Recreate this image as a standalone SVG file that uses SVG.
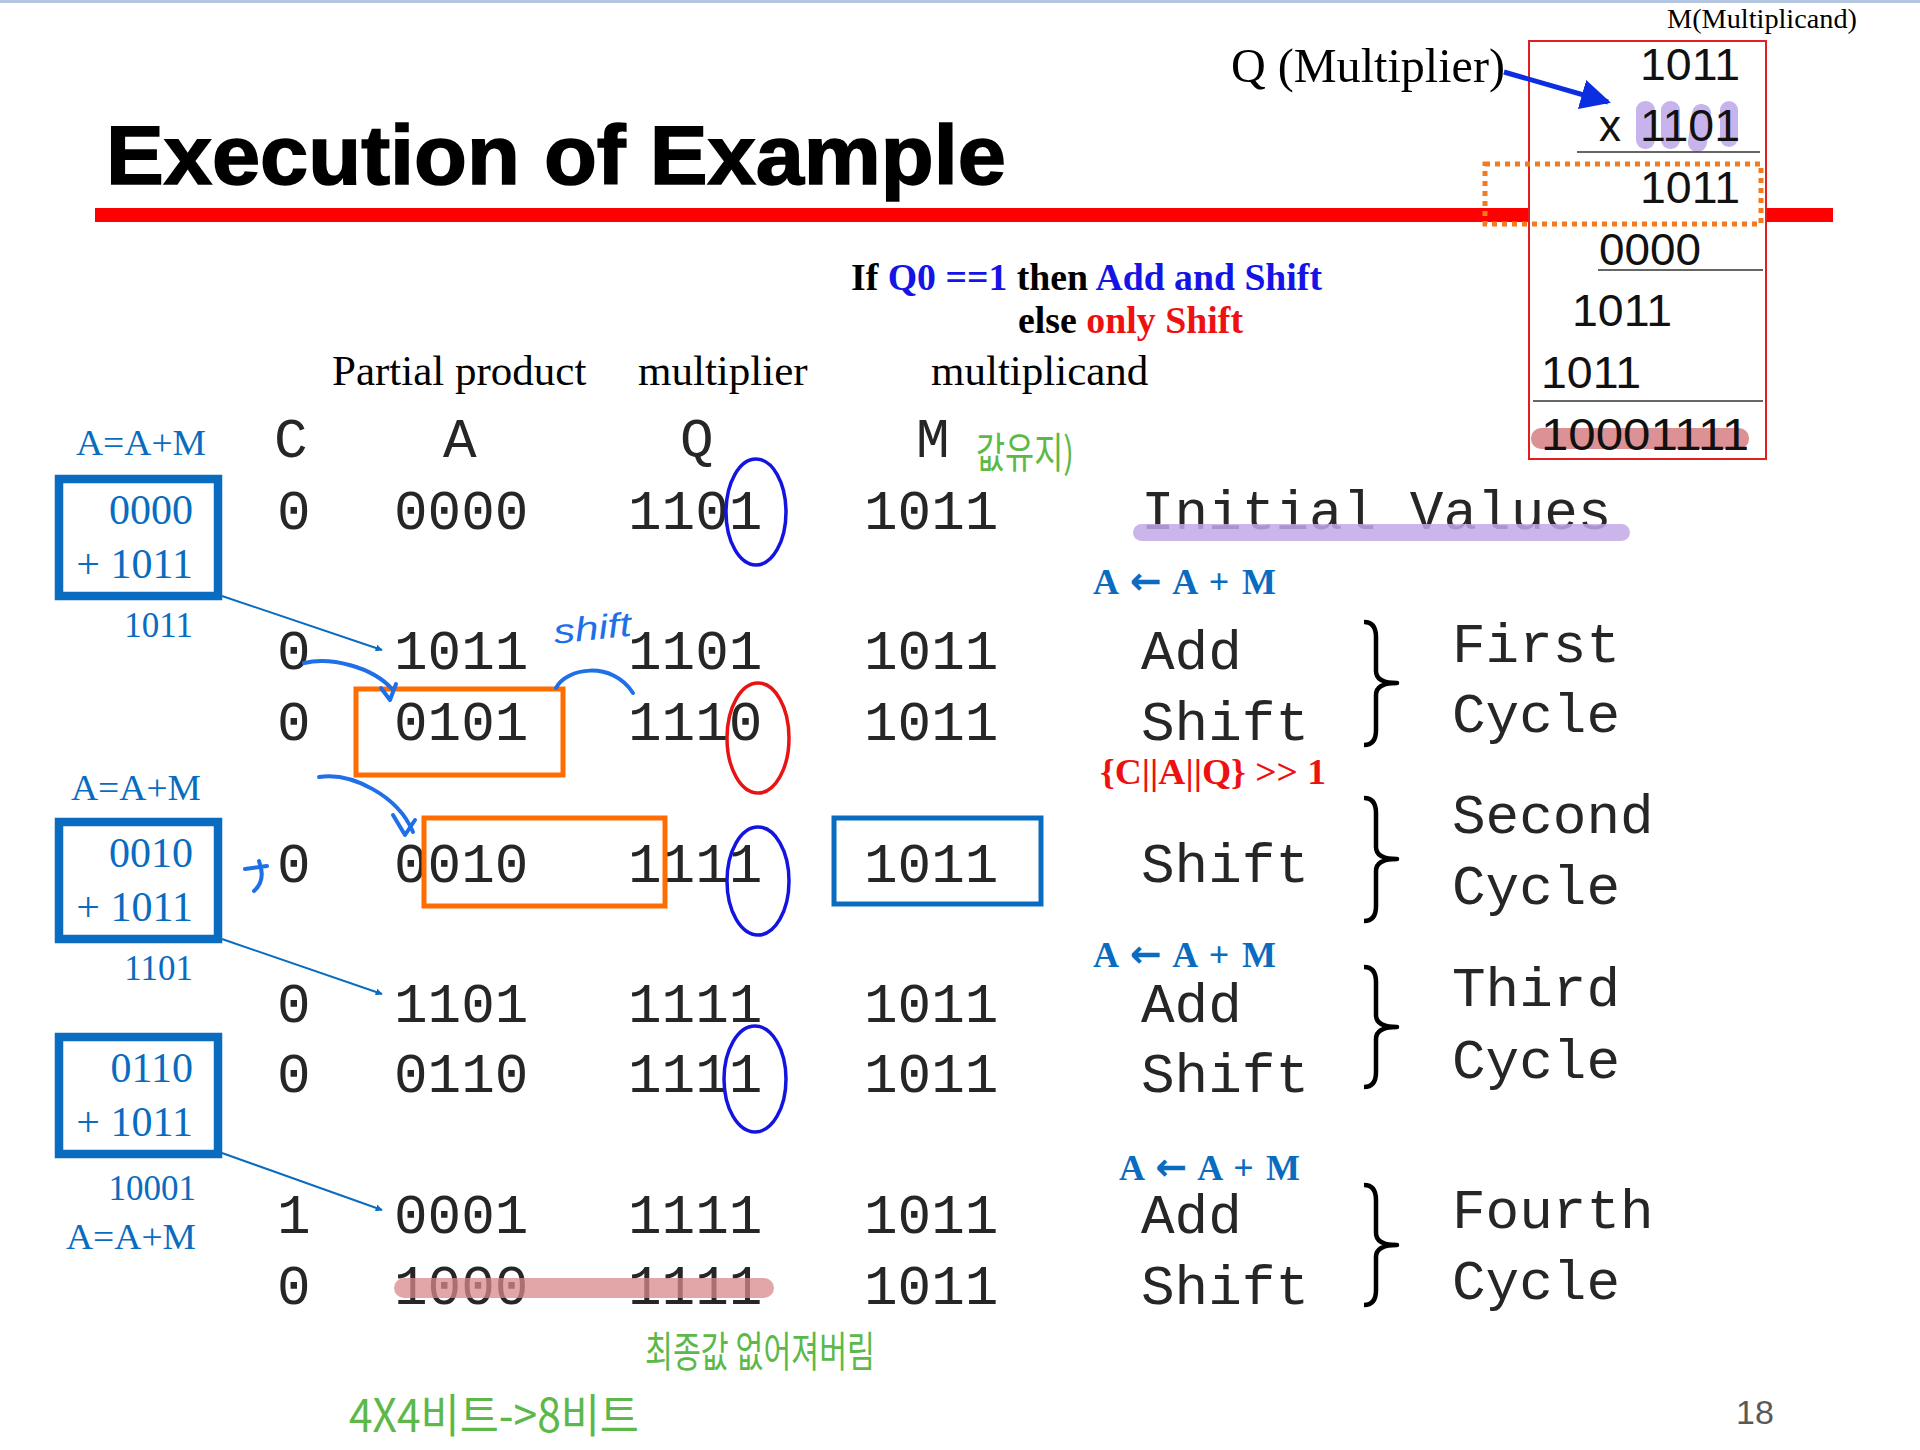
<svg xmlns="http://www.w3.org/2000/svg" width="1920" height="1450" viewBox="0 0 1920 1450">
<defs>
<style>
.mono{font-family:"Liberation Mono","Courier New",monospace;font-size:56px;fill:#262626}
.ser{font-family:"Liberation Serif","Times New Roman",serif}
.sans{font-family:"Liberation Sans",Arial,sans-serif}
.lbl{font-family:"Liberation Serif","Times New Roman",serif;fill:#0a6cc0}
.blk{fill:#000}
.bl{fill:#1414e6}
.rd{fill:#ee1111}
.arw{font-family:"DejaVu Sans",sans-serif;font-size:38px;font-weight:bold}
.hb{fill:none;stroke:#1f6fe8;stroke-width:4;stroke-linecap:round;stroke-linejoin:round}
.grn{font-family:"Noto Sans CJK KR","Noto Sans",sans-serif;fill:#5cb848}
.brace{fill:none;stroke:#000;stroke-width:4.5;stroke-linejoin:round}
.lbox{fill:none;stroke:#0a6cc0;stroke-width:8.5}
.obox{fill:none;stroke:#ff6d00;stroke-width:5}
.ell{fill:none;stroke-width:3.5}
.rule{stroke:#333;stroke-width:1.5}
.bx{font-family:"Liberation Sans",Arial,sans-serif;font-size:44px;fill:#111}
</style>
<marker id="ah" viewBox="0 0 10 10" refX="9" refY="5" markerWidth="7" markerHeight="7" orient="auto" markerUnits="userSpaceOnUse">
<path d="M0,0 L10,5 L0,10 z" fill="#0a6cc0"/>
</marker>
<marker id="ahb" viewBox="0 0 10 10" refX="9" refY="5" markerWidth="6" markerHeight="6" orient="auto">
<path d="M0,0 L10,5 L0,10 z" fill="#0a2ee0"/>
</marker>
</defs>
<rect x="0" y="0" width="1920" height="1450" fill="#fff"/>
<rect x="0" y="0" width="1920" height="3" fill="#b4c6e0"/>

<g id="title">
<text x="106" y="184" class="sans" font-weight="bold" font-size="84" textLength="900" lengthAdjust="spacingAndGlyphs" fill="#000" stroke="#000" stroke-width="1.6">Execution of Example</text>
<rect x="95" y="208" width="1738" height="14" fill="#ff0000"/>
</g>

<g id="manual-multiplication">
<text x="1667" y="28" class="ser" font-size="28" textLength="190" lengthAdjust="spacingAndGlyphs" fill="#000">M(Multiplicand)</text>
<text x="1231" y="82" class="ser" font-size="48" textLength="274" lengthAdjust="spacingAndGlyphs" fill="#000">Q (Multiplier)</text>
<rect x="1529" y="41" width="237" height="418" fill="#fff" stroke="#e02020" stroke-width="2"/>
<rect x="1485" y="164" width="276" height="60" fill="none" stroke="#f47a20" stroke-width="5" stroke-dasharray="5 5"/>
<rect x="1636" y="101" width="19" height="48" rx="9" fill="#c8b4ec"/>
<rect x="1661" y="101" width="19" height="48" rx="9" fill="#c8b4ec"/>
<rect x="1690" y="104" width="19" height="48" rx="9" fill="#c8b4ec" transform="rotate(8 1700 128)"/>
<rect x="1720" y="101" width="18" height="46" rx="9" fill="#c8b4ec"/>
<rect x="1531" y="428" width="218" height="21" rx="10" fill="#dc9294"/>
<text x="1640" y="80" class="bx" textLength="100" lengthAdjust="spacingAndGlyphs">1011</text>
<text x="1599" y="141" class="bx">x</text>
<text x="1640" y="141" class="bx" textLength="100" lengthAdjust="spacingAndGlyphs">1101</text>
<line x1="1577" y1="152" x2="1760" y2="152" class="rule"/>
<text x="1640" y="203" class="bx" textLength="100" lengthAdjust="spacingAndGlyphs">1011</text>
<text x="1599" y="265" class="bx" textLength="102" lengthAdjust="spacingAndGlyphs">0000</text>
<line x1="1598" y1="270" x2="1763" y2="270" class="rule"/>
<text x="1572" y="326" class="bx" textLength="100" lengthAdjust="spacingAndGlyphs">1011</text>
<text x="1541" y="388" class="bx" textLength="100" lengthAdjust="spacingAndGlyphs">1011</text>
<line x1="1533" y1="401" x2="1763" y2="401" class="rule"/>
<text x="1541" y="450" class="bx" textLength="208" lengthAdjust="spacingAndGlyphs">10001111</text>
</g>

<g id="rule-text" font-weight="bold" font-size="37">
<text x="851" y="290" class="ser" textLength="471" lengthAdjust="spacingAndGlyphs"><tspan class="blk">If </tspan><tspan class="bl">Q0 ==1</tspan><tspan class="blk"> then </tspan><tspan class="bl">Add and Shift</tspan></text>
<text x="1018" y="333" class="ser" textLength="225" lengthAdjust="spacingAndGlyphs"><tspan class="blk">else </tspan><tspan class="rd">only Shift</tspan></text>
</g>

<g id="column-titles" class="ser" font-size="43" fill="#000">
<text x="332" y="385">Partial product</text>
<text x="638" y="385">multiplier</text>
<text x="931" y="385">multiplicand</text>
</g>

<g id="table" class="mono">
<text x="274" y="457">C</text><text x="443" y="457">A</text><text x="680" y="457">Q</text><text x="916" y="457">M</text>
<text x="277" y="529">0</text><text x="394" y="529">0000</text><text x="628" y="529">1101</text><text x="864" y="529">1011</text><text x="1141" y="529">Initial Values</text>
<text x="277" y="669">0</text><text x="394" y="669">1011</text><text x="628" y="669">1101</text><text x="864" y="669">1011</text><text x="1141" y="669">Add</text>
<text x="277" y="740">0</text><text x="394" y="740">0101</text><text x="628" y="740">1110</text><text x="864" y="740">1011</text><text x="1141" y="740">Shift</text>
<text x="277" y="882">0</text><text x="394" y="882">0010</text><text x="628" y="882">1111</text><text x="864" y="882">1011</text><text x="1141" y="882">Shift</text>
<text x="277" y="1022">0</text><text x="394" y="1022">1101</text><text x="628" y="1022">1111</text><text x="864" y="1022">1011</text><text x="1141" y="1022">Add</text>
<text x="277" y="1092">0</text><text x="394" y="1092">0110</text><text x="628" y="1092">1111</text><text x="864" y="1092">1011</text><text x="1141" y="1092">Shift</text>
<text x="277" y="1233">1</text><text x="394" y="1233">0001</text><text x="628" y="1233">1111</text><text x="864" y="1233">1011</text><text x="1141" y="1233">Add</text>
<text x="277" y="1304">0</text><text x="394" y="1304">1000</text><text x="628" y="1304">1111</text><text x="864" y="1304">1011</text><text x="1141" y="1304">Shift</text>
</g>

<g id="highlights">
<rect x="1133" y="524" width="497" height="17" rx="8.5" fill="#c3a8e6" opacity="0.85"/>
<rect x="394" y="1278" width="380" height="20" rx="10" fill="#d9888b" opacity="0.75"/>
</g>

<g id="lsb-marks">
<ellipse cx="756" cy="512" rx="30" ry="53" class="ell" stroke="#1414e0"/>
<ellipse cx="758" cy="738" rx="31" ry="55" class="ell" stroke="#e81414"/>
<ellipse cx="758" cy="881" rx="31" ry="54" class="ell" stroke="#1414e0"/>
<ellipse cx="755" cy="1079" rx="31" ry="53" class="ell" stroke="#1414e0"/>
</g>

<g id="shift-boxes">
<rect x="356" y="689" width="207" height="86" class="obox"/>
<rect x="424" y="818" width="241" height="88" class="obox"/>
<rect x="834" y="818" width="207" height="86" fill="none" stroke="#0a6cc0" stroke-width="5"/>
</g>

<g id="cycles">
<path class="brace" d="M1364 622 Q1376 622 1376 637 L1376 671 Q1376 683 1397 683 Q1376 683 1376 695 L1376 730 Q1376 745 1364 745"/>
<path class="brace" d="M1364 798 Q1376 798 1376 813 L1376 847 Q1376 859 1397 859 Q1376 859 1376 871 L1376 906 Q1376 921 1364 921"/>
<path class="brace" d="M1364 967 Q1376 967 1376 982 L1376 1015 Q1376 1027 1397 1027 Q1376 1027 1376 1039 L1376 1072 Q1376 1087 1364 1087"/>
<path class="brace" d="M1364 1185 Q1376 1185 1376 1200 L1376 1233 Q1376 1245 1397 1245 Q1376 1245 1376 1257 L1376 1290 Q1376 1305 1364 1305"/>
<g class="mono">
<text x="1452" y="662">First</text><text x="1452" y="732">Cycle</text>
<text x="1452" y="833">Second</text><text x="1452" y="904">Cycle</text>
<text x="1452" y="1006">Third</text><text x="1452" y="1078">Cycle</text>
<text x="1452" y="1228">Fourth</text><text x="1452" y="1299">Cycle</text>
</g>
</g>

<g id="operations" class="ser" font-weight="bold" font-size="36">
<text x="1093" y="594" fill="#0a6cc0" textLength="183" lengthAdjust="spacing">A <tspan class="arw">←</tspan> A + M</text>
<text x="1100" y="784" fill="#ee1111" textLength="226" lengthAdjust="spacingAndGlyphs">{C||A||Q} &gt;&gt; 1</text>
<text x="1093" y="967" fill="#0a6cc0" textLength="183" lengthAdjust="spacing">A <tspan class="arw">←</tspan> A + M</text>
<text x="1119" y="1180" fill="#0a6cc0" textLength="181" lengthAdjust="spacing">A <tspan class="arw">←</tspan> A + M</text>
</g>

<g id="add-box-1">
<text x="76" y="455" class="lbl" font-size="36" textLength="130" lengthAdjust="spacingAndGlyphs">A=A+M</text>
<rect x="59" y="479" width="159" height="117" class="lbox"/>
<text x="193" y="524" class="lbl" font-size="42" text-anchor="end">0000</text>
<text x="193" y="578" class="lbl" font-size="42" text-anchor="end">+ 1011</text>
<text x="193" y="637" class="lbl" font-size="35" text-anchor="end">1011</text>
</g>
<g id="add-box-2">
<text x="71" y="800" class="lbl" font-size="36" textLength="130" lengthAdjust="spacingAndGlyphs">A=A+M</text>
<rect x="59" y="822" width="159" height="117" class="lbox"/>
<text x="193" y="867" class="lbl" font-size="42" text-anchor="end">0010</text>
<text x="193" y="921" class="lbl" font-size="42" text-anchor="end">+ 1011</text>
<text x="193" y="980" class="lbl" font-size="35" text-anchor="end">1101</text>
</g>
<g id="add-box-3">
<rect x="59" y="1037" width="159" height="117" class="lbox"/>
<text x="193" y="1082" class="lbl" font-size="42" text-anchor="end">0110</text>
<text x="193" y="1136" class="lbl" font-size="42" text-anchor="end">+ 1011</text>
<text x="196" y="1200" class="lbl" font-size="35" text-anchor="end">10001</text>
<text x="66" y="1249" class="lbl" font-size="36" textLength="130" lengthAdjust="spacingAndGlyphs">A=A+M</text>
</g>

<g id="connectors">
<line x1="222" y1="596" x2="382" y2="650" stroke="#0a6cc0" stroke-width="2" marker-end="url(#ah)"/>
<line x1="222" y1="939" x2="382" y2="994" stroke="#0a6cc0" stroke-width="2" marker-end="url(#ah)"/>
<line x1="222" y1="1153" x2="382" y2="1210" stroke="#0a6cc0" stroke-width="2" marker-end="url(#ah)"/>
<line x1="1504" y1="72" x2="1608" y2="102" stroke="#0a2ee0" stroke-width="5" marker-end="url(#ahb)"/>
<path class="hb" d="M304 663 C330 657 372 666 393 690"/>
<path class="hb" d="M381 688 L390 700 L396 684"/>
<path class="hb" d="M556 688 C566 668 612 660 633 693"/>
<path class="hb" d="M319 777 C352 772 398 796 413 832"/>
<path class="hb" d="M393 815 L405 835 L415 820"/>
<path class="hb" d="M245 869 L267 866 M259 861 C264 874 262 884 254 891"/>
</g>

<g id="handwritten-notes">
<text x="553" y="640" class="sans" font-style="italic" font-size="34" fill="#1f6fe8" textLength="78" lengthAdjust="spacingAndGlyphs" transform="rotate(-6 590 625)">shift</text>
<text x="976" y="468" class="grn" font-size="42" textLength="98" lengthAdjust="spacingAndGlyphs">값유지)</text>
<text x="645" y="1367" class="grn" font-size="42" textLength="230" lengthAdjust="spacingAndGlyphs">최종값 없어져버림</text>
<text x="349" y="1432" class="grn" font-size="46" textLength="290" lengthAdjust="spacingAndGlyphs">4X4비트-&gt;8비트</text>
</g>

<g id="page-number">
<text x="1736" y="1424" class="sans" font-size="34" fill="#595959">18</text>
</g>
</svg>
